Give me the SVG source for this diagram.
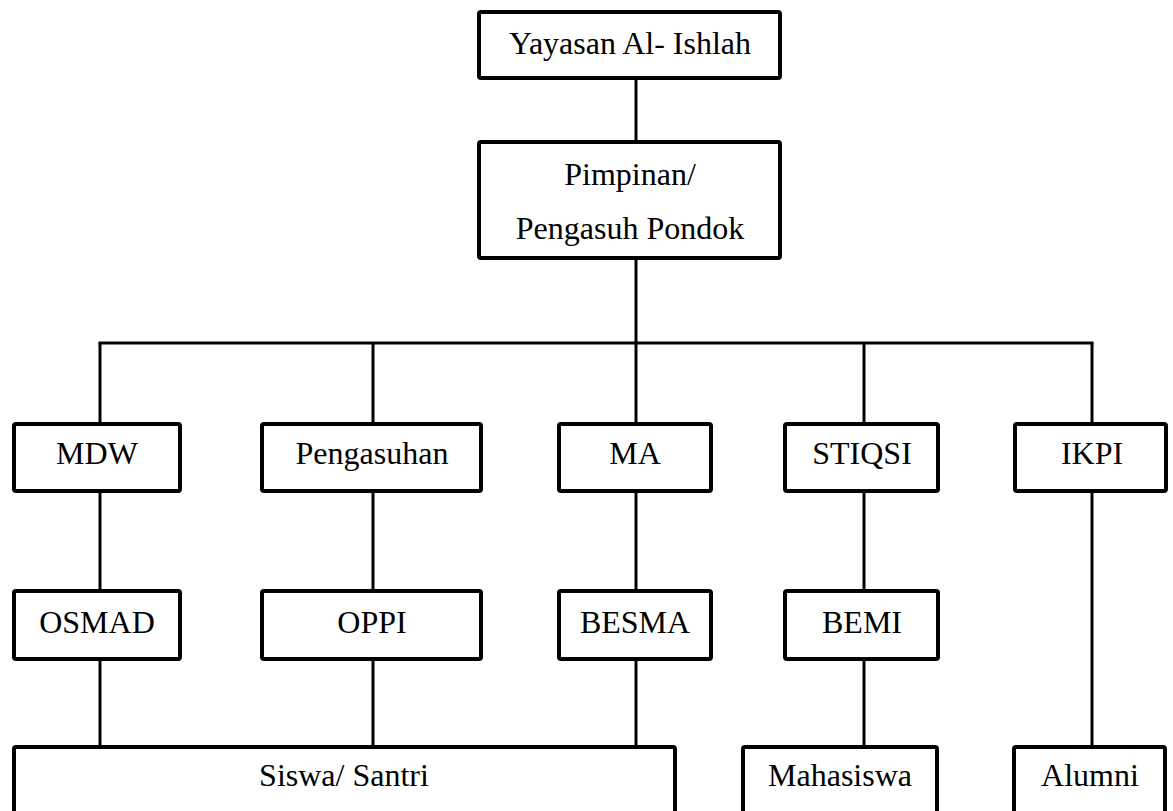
<svg xmlns="http://www.w3.org/2000/svg" width="1173" height="811" viewBox="0 0 1173 811">
<style>
.box{fill:#fff;stroke:#000;stroke-width:4;}
.ln{stroke:#000;stroke-width:3;fill:none;}
text{font-family:"Liberation Serif","Times New Roman",serif;font-size:32px;fill:#000;text-anchor:middle;}
</style>
<rect width="1173" height="811" fill="#fff"/>
<g id="connectors">
<line class="ln" x1="636" y1="80" x2="636" y2="142"/>
<line class="ln" x1="636" y1="260" x2="636" y2="343"/>
<line class="ln" x1="98.5" y1="343" x2="1093.5" y2="343"/>
<line class="ln" x1="100" y1="343" x2="100" y2="424"/>
<line class="ln" x1="373" y1="343" x2="373" y2="424"/>
<line class="ln" x1="636" y1="343" x2="636" y2="424"/>
<line class="ln" x1="864" y1="343" x2="864" y2="424"/>
<line class="ln" x1="1092" y1="343" x2="1092" y2="424"/>
<line class="ln" x1="100" y1="492" x2="100" y2="591"/>
<line class="ln" x1="373" y1="492" x2="373" y2="591"/>
<line class="ln" x1="636" y1="492" x2="636" y2="591"/>
<line class="ln" x1="864" y1="492" x2="864" y2="591"/>
<line class="ln" x1="1092" y1="492" x2="1092" y2="747"/>
<line class="ln" x1="100" y1="660" x2="100" y2="747"/>
<line class="ln" x1="373" y1="660" x2="373" y2="747"/>
<line class="ln" x1="636" y1="660" x2="636" y2="747"/>
<line class="ln" x1="864" y1="660" x2="864" y2="747"/>
</g>
<g id="yayasan"><rect class="box" x="479" y="12" width="301" height="66" rx="2"/><text x="630" y="54">Yayasan Al- Ishlah</text></g>
<g id="pimpinan"><rect class="box" x="479" y="142" width="301" height="116" rx="2"/><text x="630" y="185">Pimpinan/</text><text x="630" y="239">Pengasuh Pondok</text></g>
<g id="mdw"><rect class="box" x="14" y="424" width="166" height="67" rx="2"/><text x="97" y="464">MDW</text></g>
<g id="pengasuhan"><rect class="box" x="262" y="424" width="219" height="67" rx="2"/><text x="372" y="464">Pengasuhan</text></g>
<g id="ma"><rect class="box" x="559" y="424" width="152" height="67" rx="2"/><text x="635" y="464">MA</text></g>
<g id="stiqsi"><rect class="box" x="785" y="424" width="153" height="67" rx="2"/><text x="862" y="464">STIQSI</text></g>
<g id="ikpi"><rect class="box" x="1015" y="424" width="151" height="67" rx="2"/><text x="1092" y="464">IKPI</text></g>
<g id="osmad"><rect class="box" x="14" y="591" width="166" height="68" rx="2"/><text x="97" y="633">OSMAD</text></g>
<g id="oppi"><rect class="box" x="262" y="591" width="219" height="68" rx="2"/><text x="372" y="633">OPPI</text></g>
<g id="besma"><rect class="box" x="559" y="591" width="152" height="68" rx="2"/><text x="635" y="633">BESMA</text></g>
<g id="bemi"><rect class="box" x="785" y="591" width="153" height="68" rx="2"/><text x="862" y="633">BEMI</text></g>
<g id="siswa"><rect class="box" x="14" y="747" width="661" height="80" rx="2"/><text x="344" y="786">Siswa/ Santri</text></g>
<g id="mahasiswa"><rect class="box" x="743" y="747" width="194" height="80" rx="2"/><text x="840" y="786">Mahasiswa</text></g>
<g id="alumni"><rect class="box" x="1014" y="747" width="151" height="80" rx="2"/><text x="1090" y="786">Alumni</text></g>
</svg>
